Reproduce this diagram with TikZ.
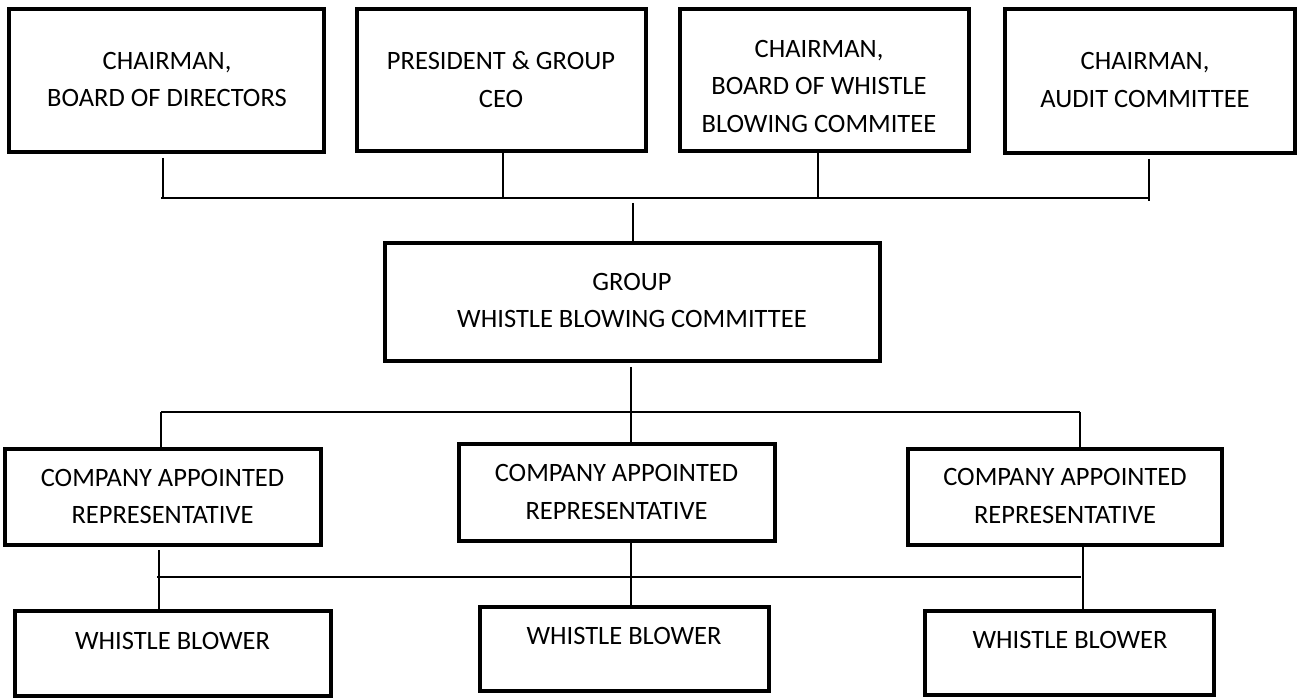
\documentclass[tikz,border=0pt]{standalone}
\usepackage{fontspec}
\setmainfont{Carlito}
\begin{document}
\begin{tikzpicture}[x=1pt,y=-1pt,
  box/.style={draw, line width=4pt, inner sep=0pt},
  txt/.style={font=\fontsize{26.5}{37.5}\selectfont, align=center, inner sep=0pt},
  conn/.style={draw, line width=1.4pt}]
\useasboundingbox (0,0) rectangle (1299,700);
% top row
\node[box, minimum width=315, minimum height=143] (b1) at (166.5,80.5) {};
\node[box, minimum width=289, minimum height=142] (b2) at (501.5,80) {};
\node[box, minimum width=289, minimum height=142] (b3) at (824.5,80) {};
\node[box, minimum width=290, minimum height=144] (b4) at (1150,81) {};
\node[txt] (t1) at (167,79.5) {CHAIRMAN,\\BOARD OF DIRECTORS};
\node[txt] (t2) at (501,79.5) {PRESIDENT \& GROUP\\CEO};
\node[txt] (t3) at (819,86) {CHAIRMAN,\\BOARD OF WHISTLE\\BLOWING COMMITEE};
\node[txt] (t4) at (1145,80) {CHAIRMAN,\\AUDIT COMMITTEE};
% group
\node[box, minimum width=495, minimum height=118] (g) at (632.5,302) {};
\node[txt] (tg) at (632,300.5) {GROUP\\WHISTLE BLOWING COMMITTEE};
% company reps
\node[box, minimum width=316, minimum height=96] (c1) at (163,497) {};
\node[box, minimum width=316, minimum height=97] (c2) at (617,492.5) {};
\node[box, minimum width=314, minimum height=96] (c3) at (1065,497) {};
\node[txt] (tc1) at (162.5,496.5) {COMPANY APPOINTED\\REPRESENTATIVE};
\node[txt] (tc2) at (616.5,492) {COMPANY APPOINTED\\REPRESENTATIVE};
\node[txt] (tc3) at (1065,496) {COMPANY APPOINTED\\REPRESENTATIVE};
% whistle blowers
\node[box, minimum width=316, minimum height=85] (w1) at (173,653.5) {};
\node[box, minimum width=289, minimum height=84] (w2) at (624.5,649) {};
\node[box, minimum width=289, minimum height=84] (w3) at (1069.5,653) {};
\node[txt] (tw1) at (172.5,641) {WHISTLE BLOWER};
\node[txt] (tw2) at (624,635.5) {WHISTLE BLOWER};
\node[txt] (tw3) at (1070,640) {WHISTLE BLOWER};
% junction coordinates
\coordinate (top) at (633,198);
\coordinate (mid) at (631,412);
\coordinate (low) at (631,577);
% top connectors
\draw[conn] (161,198) -- (1149,198);
\draw[conn] ([xshift=-3.5pt,yshift=-4pt]b1.south) -- ([xshift=-3.5pt]b1.south |- top);
\draw[conn] ([xshift=1.5pt]b2.south) -- ([xshift=1.5pt]b2.south |- top);
\draw[conn] ([xshift=-6.5pt]b3.south) -- ([xshift=-6.5pt]b3.south |- top);
\draw[conn] ([xshift=-1pt,yshift=-4pt]b4.south) -- ([xshift=-1pt,yshift=-3pt]b4.south |- top);
\draw[conn] ([yshift=-5pt]top) -- (top |- g.north);
% group to reps
\draw[conn] ([xshift=-1.5pt,yshift=-4pt]g.south) -- (mid);
\draw[conn] (161,412) -- (1080,412);
\draw[conn] (c1.north -| 161,0) -- (161,412);
\draw[conn] (mid) -- ([xshift=14pt]c2.north);
\draw[conn] (c3.north -| 1080,0) -- (1080,412);
% reps to blowers
\draw[conn] (157,577) -- (1081,577);
\draw[conn] ([xshift=-4pt,yshift=-3pt]c1.south) -- (w1.north -| 159,0);
\draw[conn] ([xshift=14pt]c2.south) -- ([xshift=6.5pt]w2.north);
\draw[conn] ([xshift=18pt]c3.south) -- ([xshift=13.5pt]w3.north);
\end{tikzpicture}
\end{document}
